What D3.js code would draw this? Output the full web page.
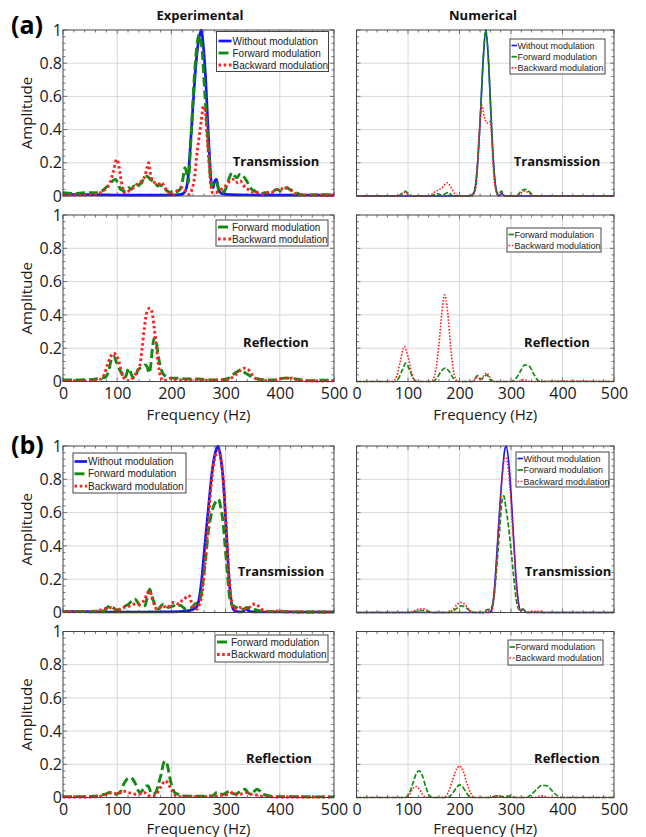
<!DOCTYPE html>
<html><head><meta charset="utf-8">
<script src="https://cdn.jsdelivr.net/npm/d3@7"></script>
<style>body{margin:0;background:#fff}svg{display:block}</style>
</head><body>
<script>
// ---------------- DATA ([frequency Hz, amplitude]) ----------------
const xTickValues = [0,100,200,300,400,500];
const xTickLabels = ["0","100","200","300","400","500"];
const yTickValues = [0,0.2,0.4,0.6,0.8,1];
const yTickLabels = ["0","0.2","0.4","0.6","0.8","1"];
const seriesNames = ["Without modulation","Forward modulation","Backward modulation"];
const columnTitles = ["Experimental","Numerical"];
const panelTags = ["(a)","(b)"];

// (a) experimental transmission
const aExpTransWithout = [[0,0.01],[50,0.008],[100,0.006],[150,0.005],[200,0.006],[215,0.008],[222,0.015],[227,0.04],[231,0.12],[236,0.35],[241,0.6],[246,0.82],[251,0.95],[255,1.0],[259,0.9],[263,0.72],[267,0.45],[271,0.2],[274,0.07],[277,0.05],[280,0.09],[283,0.1],[287,0.04],[292,0.015],[300,0.01],[350,0.006],[400,0.005],[450,0.006],[500,0.005]];
const aExpTransForward = [[0,0.02],[20,0.015],[40,0.02],[62,0.02],[72,0.03],[79,0.05],[86,0.07],[91,0.09],[97,0.1],[102,0.07],[106,0.04],[115,0.03],[121,0.05],[126,0.04],[131,0.06],[136,0.05],[141,0.07],[145,0.08],[150,0.11],[155,0.12],[161,0.1],[166,0.09],[170,0.08],[175,0.06],[179,0.07],[184,0.05],[188,0.04],[193,0.03],[197,0.02],[203,0.03],[207,0.02],[212,0.03],[216,0.04],[221,0.1],[225,0.17],[228,0.14],[231,0.08],[236,0.35],[243,0.75],[248,0.93],[251,0.97],[256,0.9],[262,0.6],[268,0.3],[274,0.06],[279,0.08],[283,0.09],[287,0.04],[292,0.02],[298,0.03],[302,0.06],[308,0.12],[312,0.14],[317,0.12],[321,0.11],[326,0.13],[330,0.13],[335,0.11],[339,0.09],[344,0.06],[348,0.04],[354,0.03],[358,0.02],[365,0.01],[372,0.02],[380,0.02],[388,0.03],[395,0.04],[402,0.03],[408,0.04],[413,0.05],[418,0.04],[425,0.03],[431,0.02],[437,0.01],[450,0.005],[470,0.008],[500,0.005]];
const aExpTransBackward = [[0,0.005],[30,0.005],[55,0.008],[66,0.015],[74,0.03],[81,0.05],[87,0.08],[93,0.15],[99,0.22],[103,0.18],[106,0.12],[110,0.05],[113,0.02],[118,0.02],[124,0.04],[130,0.05],[136,0.07],[142,0.08],[147,0.1],[151,0.12],[155,0.17],[158,0.2],[161,0.14],[165,0.09],[170,0.08],[176,0.07],[180,0.08],[185,0.07],[190,0.04],[195,0.02],[200,0.01],[205,0.01],[210,0.03],[215,0.04],[220,0.05],[224,0.04],[228,0.02],[233,0.01],[238,0.04],[243,0.12],[247,0.25],[251,0.35],[255,0.45],[259,0.54],[263,0.5],[266,0.35],[270,0.18],[273,0.06],[276,0.02],[282,0.02],[287,0.03],[292,0.04],[297,0.05],[302,0.07],[308,0.09],[313,0.1],[317,0.1],[322,0.08],[327,0.09],[332,0.07],[336,0.05],[341,0.04],[346,0.03],[352,0.02],[360,0.02],[368,0.01],[376,0.02],[384,0.02],[390,0.03],[396,0.04],[402,0.04],[407,0.05],[413,0.05],[419,0.04],[425,0.02],[432,0.01],[445,0.005],[470,0.005],[500,0.003]];

// (a) experimental reflection
const aExpReflForward = [[0,0.01],[30,0.01],[55,0.012],[68,0.02],[78,0.025],[84,0.06],[90,0.14],[94,0.15],[98,0.12],[103,0.08],[108,0.05],[113,0.02],[117,0.04],[121,0.08],[124,0.06],[128,0.03],[133,0.02],[137,0.06],[142,0.08],[147,0.09],[151,0.1],[155,0.09],[159,0.05],[162,0.1],[165,0.2],[168,0.26],[172,0.24],[175,0.17],[179,0.1],[184,0.05],[190,0.03],[198,0.02],[210,0.02],[230,0.015],[250,0.015],[270,0.01],[290,0.01],[303,0.015],[310,0.03],[317,0.05],[322,0.06],[327,0.07],[332,0.06],[337,0.05],[342,0.04],[347,0.03],[352,0.02],[360,0.015],[375,0.01],[390,0.01],[400,0.015],[408,0.02],[415,0.02],[422,0.02],[430,0.015],[440,0.01],[460,0.005],[480,0.008],[500,0.005]];
const aExpReflBackward = [[0,0.005],[40,0.005],[60,0.008],[70,0.015],[76,0.04],[82,0.1],[88,0.15],[93,0.17],[98,0.16],[103,0.12],[107,0.07],[111,0.03],[115,0.01],[122,0.005],[128,0.02],[133,0.04],[138,0.07],[142,0.1],[146,0.2],[150,0.32],[155,0.42],[160,0.44],[164,0.42],[168,0.33],[172,0.22],[176,0.1],[180,0.03],[185,0.005],[192,0.01],[198,0.02],[210,0.01],[240,0.01],[270,0.008],[300,0.01],[310,0.02],[318,0.04],[325,0.06],[333,0.08],[340,0.075],[345,0.06],[351,0.03],[358,0.015],[366,0.01],[380,0.005],[395,0.01],[405,0.02],[414,0.02],[422,0.02],[432,0.01],[445,0.005],[470,0.003],[500,0.005]];

// (a) numerical transmission
const aNumTransWithout = [[0,0],[220,0],[228,0.02],[234,0.15],[240,0.45],[246,0.82],[251,1.0],[256,0.83],[261,0.5],[266,0.2],[271,0.04],[276,0],[282,0.015],[288,0],[500,0]];
const aNumTransForward = [[0,0],[80,0],[88,0.015],[94,0.03],[100,0.015],[108,0],[145,0],[156,0.015],[165,0.005],[178,0.02],[188,0],[220,0],[228,0.02],[234,0.15],[240,0.45],[246,0.82],[251,1.0],[256,0.83],[261,0.5],[266,0.2],[271,0.04],[276,0.01],[281,0.03],[288,0],[310,0],[320,0.03],[327,0.04],[334,0.03],[345,0],[500,0]];
const aNumTransBackward = [[0,0],[80,0],[88,0.01],[93,0.02],[100,0.01],[108,0],[140,0],[150,0.02],[158,0.035],[166,0.05],[176,0.08],[184,0.05],[192,0.01],[200,0],[225,0],[232,0.05],[237,0.3],[243,0.55],[248,0.48],[253,0.44],[258,0.45],[262,0.38],[266,0.15],[270,0.04],[276,0],[281,0.02],[288,0],[312,0],[320,0.02],[327,0.03],[334,0.02],[345,0],[500,0]];

// (a) numerical reflection
const aNumReflForward = [[0,0],[75,0],[82,0.02],[89,0.07],[96,0.11],[103,0.07],[110,0.02],[118,0],[148,0],[156,0.02],[164,0.06],[172,0.08],[180,0.06],[188,0.02],[196,0],[225,0],[235,0.035],[242,0.015],[247,0.025],[253,0.04],[260,0.01],[268,0],[300,0],[310,0.02],[318,0.06],[327,0.1],[336,0.09],[345,0.04],[353,0.005],[360,0],[500,0]];
const aNumReflBackward = [[0,0],[70,0],[78,0.03],[85,0.12],[93,0.21],[100,0.15],[107,0.05],[115,0],[145,0],[152,0.04],[160,0.22],[166,0.42],[171,0.52],[177,0.42],[183,0.2],[190,0.04],[197,0],[225,0],[235,0.025],[242,0.01],[248,0.04],[253,0.05],[260,0.02],[268,0],[312,0],[325,0.01],[338,0],[400,0.003],[500,0]];

// (b) experimental transmission
const bExpTransWithout = [[0,0.005],[40,0.005],[80,0.003],[150,0.003],[200,0.004],[230,0.01],[240,0.02],[246,0.03],[251,0.08],[256,0.2],[261,0.38],[266,0.55],[271,0.72],[276,0.87],[281,0.96],[286,1.0],[290,0.95],[294,0.85],[298,0.68],[302,0.45],[306,0.22],[310,0.08],[314,0.02],[320,0.005],[330,0.003],[339,0.02],[345,0.005],[360,0.003],[400,0.003],[500,0.003]];
const bExpTransForward = [[0,0.005],[40,0.005],[60,0.008],[75,0.01],[82,0.03],[87,0.04],[92,0.03],[96,0.02],[101,0.015],[105,0.02],[112,0.035],[121,0.05],[127,0.07],[133,0.08],[138,0.06],[142,0.04],[146,0.035],[151,0.04],[156,0.1],[160,0.14],[164,0.1],[168,0.06],[172,0.03],[176,0.02],[181,0.04],[185,0.05],[190,0.04],[194,0.03],[199,0.035],[204,0.04],[209,0.05],[213,0.045],[218,0.04],[222,0.03],[226,0.02],[232,0.025],[238,0.03],[243,0.05],[248,0.06],[253,0.08],[258,0.18],[263,0.32],[268,0.48],[273,0.58],[278,0.64],[283,0.67],[287,0.68],[291,0.63],[295,0.55],[299,0.4],[303,0.25],[307,0.1],[311,0.05],[315,0.04],[320,0.03],[326,0.02],[333,0.02],[339,0.03],[345,0.025],[351,0.02],[357,0.015],[363,0.01],[375,0.005],[400,0.005],[450,0.003],[500,0.003]];
const bExpTransBackward = [[0,0.005],[40,0.004],[60,0.005],[70,0.015],[76,0.02],[82,0.03],[88,0.03],[94,0.025],[100,0.01],[106,0.02],[112,0.03],[118,0.035],[124,0.04],[130,0.05],[136,0.05],[141,0.05],[146,0.06],[151,0.08],[156,0.12],[160,0.13],[164,0.09],[168,0.05],[173,0.02],[178,0.025],[183,0.04],[188,0.035],[194,0.03],[199,0.05],[204,0.06],[209,0.055],[214,0.05],[219,0.07],[224,0.08],[229,0.1],[233,0.1],[237,0.06],[242,0.03],[247,0.02],[252,0.05],[257,0.12],[262,0.3],[267,0.5],[272,0.72],[277,0.87],[282,0.95],[287,0.97],[291,0.93],[295,0.82],[299,0.62],[303,0.4],[307,0.18],[311,0.06],[315,0.02],[320,0.02],[326,0.03],[332,0.025],[338,0.02],[344,0.03],[350,0.05],[355,0.05],[360,0.04],[366,0.02],[372,0.01],[385,0.005],[400,0.01],[410,0.005],[450,0.003],[500,0.003]];

// (b) experimental reflection
const bExpReflForward = [[0,0.005],[30,0.005],[55,0.008],[62,0.01],[70,0.015],[78,0.02],[86,0.03],[92,0.025],[97,0.02],[102,0.025],[107,0.04],[112,0.08],[118,0.11],[124,0.12],[129,0.11],[134,0.08],[139,0.04],[143,0.03],[148,0.05],[153,0.07],[157,0.07],[161,0.04],[166,0.02],[171,0.03],[176,0.08],[181,0.14],[186,0.21],[189,0.22],[193,0.19],[197,0.12],[201,0.07],[206,0.03],[212,0.02],[222,0.01],[240,0.008],[260,0.008],[275,0.01],[284,0.03],[290,0.02],[296,0.02],[302,0.03],[308,0.04],[313,0.025],[318,0.02],[324,0.03],[330,0.04],[336,0.05],[341,0.03],[346,0.02],[352,0.035],[358,0.05],[363,0.04],[368,0.02],[374,0.015],[380,0.01],[390,0.005],[420,0.005],[460,0.004],[500,0.004]];
const bExpReflBackward = [[0,0.003],[40,0.003],[65,0.005],[75,0.015],[82,0.02],[90,0.03],[96,0.025],[101,0.02],[106,0.03],[111,0.04],[116,0.035],[121,0.03],[127,0.025],[133,0.02],[139,0.02],[145,0.025],[150,0.03],[155,0.015],[160,0.01],[166,0.01],[172,0.02],[178,0.05],[183,0.08],[188,0.1],[193,0.09],[198,0.06],[203,0.03],[208,0.01],[215,0.005],[240,0.005],[270,0.005],[285,0.01],[295,0.015],[305,0.02],[314,0.03],[320,0.02],[327,0.02],[333,0.025],[339,0.03],[345,0.02],[351,0.02],[357,0.015],[363,0.01],[375,0.005],[400,0.003],[500,0.003]];

// (b) numerical transmission
const bNumTransWithout = [[0,0],[258,0],[263,0.02],[268,0.15],[273,0.38],[278,0.62],[283,0.83],[288,0.98],[291,1.0],[295,0.92],[300,0.72],[305,0.45],[310,0.2],[315,0.05],[319,0.01],[323,0.02],[330,0],[500,0]];
const bNumTransForward = [[0,0],[105,0],[118,0.008],[127,0.012],[136,0.008],[150,0],[180,0],[190,0.015],[197,0.03],[204,0.04],[212,0.03],[220,0.01],[230,0],[245,0],[252,0.015],[257,0.02],[262,0.03],[268,0.12],[273,0.3],[278,0.5],[283,0.68],[286,0.7],[290,0.63],[295,0.52],[300,0.38],[305,0.22],[310,0.08],[315,0.02],[319,0.01],[323,0.02],[330,0],[345,0.003],[360,0],[500,0]];
const bNumTransBackward = [[0,0],[100,0],[112,0.01],[122,0.02],[128,0.022],[136,0.015],[148,0],[178,0],[188,0.02],[196,0.05],[203,0.06],[210,0.05],[218,0.02],[228,0],[248,0],[255,0.01],[262,0.005],[268,0.12],[273,0.35],[278,0.6],[283,0.82],[288,0.93],[291,0.93],[295,0.85],[300,0.66],[305,0.42],[310,0.18],[315,0.04],[319,0.01],[323,0.02],[330,0],[340,0.005],[355,0.008],[365,0],[500,0]];

// (b) numerical reflection
const bNumReflForward = [[0,0],[95,0],[103,0.03],[110,0.09],[117,0.15],[122,0.16],[128,0.13],[135,0.06],[142,0.01],[150,0],[178,0],[185,0.02],[192,0.05],[200,0.076],[207,0.06],[214,0.025],[222,0],[260,0],[275,0.01],[285,0.005],[298,0.01],[310,0],[330,0],[340,0.02],[350,0.05],[360,0.074],[370,0.07],[380,0.04],[390,0.01],[398,0],[500,0]];
const bNumReflBackward = [[0,0],[95,0],[103,0.02],[110,0.055],[116,0.066],[122,0.05],[128,0.02],[135,0],[170,0],[178,0.03],[186,0.1],[194,0.17],[200,0.19],[207,0.16],[214,0.09],[221,0.03],[229,0],[260,0],[273,0.01],[285,0],[345,0],[360,0.01],[375,0],[500,0]];

// ---------------- STYLES ----------------
const colors = {w:"#1414ff", f:"#138a13", b:"#ff2020"};
const expStyle = {
  w:{color:colors.w, width:2.7, dash:null},
  f:{color:colors.f, width:2.9, dash:"9,4"},
  b:{color:colors.b, width:2.9, dash:"2.6,2.6"}
};
const numStyle = {
  w:{color:colors.w, width:1.6, dash:null},
  f:{color:colors.f, width:1.7, dash:"5,2"},
  b:{color:colors.b, width:1.6, dash:"1.6,1.6"}
};

// ---------------- LAYOUT ----------------
const L = {x0:63, x1:334}, R = {x0:356.5, x1:614};
const rows = [
  {top:30, bot:196}, {top:215, bot:381.5}, {top:446, bot:612.5}, {top:631.5, bot:797.5}
];

const panels = [
  {col:L, row:rows[0], kind:"exp", yLabels:true, xLabels:false,
   series:[["w",aExpTransWithout],["f",aExpTransForward],["b",aExpTransBackward]],
   note:"Transmission", nx:276, ny:166,
   legend:{x:216.5,y:31.5,w:112,h:40,first:9.5,gap:12,fs:10,s0:2,s1:15,tx:16}},
  {col:L, row:rows[1], kind:"exp", yLabels:true, xLabels:true,
   series:[["f",aExpReflForward],["b",aExpReflBackward]],
   note:"Reflection", nx:276, ny:347,
   legend:{x:216,y:220,w:112,h:26,first:7,gap:12,fs:10,s0:2,s1:15,tx:16}},
  {col:R, row:rows[0], kind:"num", yLabels:false, xLabels:false,
   series:[["w",aNumTransWithout],["f",aNumTransForward],["b",aNumTransBackward]],
   note:"Transmission", nx:557, ny:166,
   legend:{x:510,y:39,w:95,h:35,first:6.5,gap:11.2,fs:9,s0:1.5,s1:7,tx:7.5}},
  {col:R, row:rows[1], kind:"num", yLabels:false, xLabels:true,
   series:[["f",aNumReflForward],["b",aNumReflBackward]],
   note:"Reflection", nx:557, ny:347,
   legend:{x:507,y:228,w:94,h:24,first:6.5,gap:11,fs:9,s0:1.5,s1:7,tx:7.5}},
  {col:L, row:rows[2], kind:"exp", yLabels:true, xLabels:false,
   series:[["w",bExpTransWithout],["f",bExpTransForward],["b",bExpTransBackward]],
   note:"Transmission", nx:281, ny:576,
   legend:{x:73,y:453,w:113,h:40,first:8.5,gap:12.3,fs:10,s0:1.5,s1:14,tx:15}},
  {col:L, row:rows[3], kind:"exp", yLabels:true, xLabels:true,
   series:[["f",bExpReflForward],["b",bExpReflBackward]],
   note:"Reflection", nx:279, ny:763,
   legend:{x:215,y:635,w:113,h:27,first:7,gap:12.5,fs:10,s0:2,s1:15,tx:16}},
  {col:R, row:rows[2], kind:"num", yLabels:false, xLabels:false,
   series:[["w",bNumTransWithout],["f",bNumTransForward],["b",bNumTransBackward]],
   note:"Transmission", nx:568, ny:576,
   legend:{x:516,y:452,w:93,h:35,first:6.5,gap:11.5,fs:9,s0:1.5,s1:7,tx:7.5}},
  {col:R, row:rows[3], kind:"num", yLabels:false, xLabels:true,
   series:[["f",bNumReflForward],["b",bNumReflBackward]],
   note:"Reflection", nx:567, ny:763,
   legend:{x:508,y:640,w:95,h:25,first:7,gap:11,fs:9,s0:1.5,s1:7,tx:7.5}}
];

const nameOf = {w:seriesNames[0], f:seriesNames[1], b:seriesNames[2]};
const FONT = "'Open Sans', 'Noto Sans', sans-serif";

const svg = d3.select("body").append("svg").attr("width",646).attr("height",837);

panels.forEach((p,pi) => {
  const x = d3.scaleLinear().domain([0,500]).range([p.col.x0,p.col.x1]);
  const y = d3.scaleLinear().domain([0,1]).range([p.row.bot,p.row.top]);
  const g = svg.append("g");
  const st = p.kind==="exp" ? expStyle : numStyle;

  // background + grid
  g.append("rect").attr("x",x(0)).attr("y",y(1)).attr("width",x(500)-x(0)).attr("height",y(0)-y(1)).attr("fill","#fff");
  g.selectAll(".gx").data(xTickValues.slice(1,-1)).enter().append("line")
    .attr("x1",d=>x(d)).attr("x2",d=>x(d)).attr("y1",y(0)).attr("y2",y(1))
    .attr("stroke","#d8d8d8").attr("stroke-width",1);
  g.selectAll(".gy").data(yTickValues.slice(1,-1)).enter().append("line")
    .attr("x1",x(0)).attr("x2",x(500)).attr("y1",d=>y(d)).attr("y2",d=>y(d))
    .attr("stroke","#d8d8d8").attr("stroke-width",1);

  // minor + major ticks (inward, all four sides)
  const xMinor = d3.range(0,501,20), yMinor = d3.range(0,1.0001,0.04);
  const tk = g.append("g").attr("stroke","#555").attr("stroke-width",0.8);
  xMinor.forEach(v => {
    const len = (v%100===0)?4:2.5;
    tk.append("line").attr("x1",x(v)).attr("x2",x(v)).attr("y1",y(0)).attr("y2",y(0)-len);
    tk.append("line").attr("x1",x(v)).attr("x2",x(v)).attr("y1",y(1)).attr("y2",y(1)+len);
  });
  yMinor.forEach(v => {
    const major = Math.abs(v*5-Math.round(v*5))<1e-6;
    const len = major?4:2.5;
    tk.append("line").attr("x1",x(0)).attr("x2",x(0)+len).attr("y1",y(v)).attr("y2",y(v));
    tk.append("line").attr("x1",x(500)).attr("x2",x(500)-len).attr("y1",y(v)).attr("y2",y(v));
  });

  // series
  const line = d3.line().x(d=>x(d[0])).y(d=>y(d[1])).curve(d3.curveMonotoneX);
  p.series.forEach(([k,data]) => {
    const s = st[k];
    g.append("path").datum(data).attr("d",line)
      .attr("fill","none").attr("stroke",s.color).attr("stroke-width",s.width)
      .attr("stroke-dasharray",s.dash).attr("stroke-linejoin","round");
  });

  // frame
  g.append("rect").attr("x",x(0)).attr("y",y(1)).attr("width",x(500)-x(0)).attr("height",y(0)-y(1))
    .attr("fill","none").attr("stroke","#444").attr("stroke-width",1);

  // axes labels
  if (p.xLabels) {
    const ax = d3.axisBottom(x).tickValues(xTickValues).tickFormat((d,i)=>xTickLabels[i]).tickSize(0).tickPadding(6);
    const ga = g.append("g").attr("transform",`translate(0,${y(0)})`).call(ax);
    ga.select(".domain").remove();
    ga.selectAll("text").attr("font-family",FONT).attr("font-size",16).attr("fill","#1a1a1a");
    g.append("text").attr("x",(x(0)+x(500))/2).attr("y",Math.min(y(0)+38.5,834)).attr("text-anchor","middle")
      .attr("font-family",FONT).attr("font-size",15).attr("fill","#1a1a1a").text("Frequency (Hz)");
  }
  if (p.yLabels) {
    const ay = d3.axisLeft(y).tickValues(yTickValues).tickFormat((d,i)=>yTickLabels[i]).tickSize(0).tickPadding(1);
    const ga = g.append("g").attr("transform",`translate(${x(0)},0)`).call(ay);
    ga.select(".domain").remove();
    ga.selectAll("text").attr("font-family",FONT).attr("font-size",16).attr("fill","#1a1a1a");
    g.append("text").attr("transform",`translate(32,${(y(0)+y(1))/2}) rotate(-90)`).attr("text-anchor","middle")
      .attr("font-family",FONT).attr("font-size",15).attr("fill","#1a1a1a").text("Amplitude");
  }

  // annotation
  g.append("text").attr("x",p.nx).attr("y",p.ny).attr("text-anchor","middle")
    .attr("font-family",FONT).attr("font-weight","bold").attr("font-size",13).attr("fill","#111").text(p.note);

  // legend
  const lg = p.legend;
  const leg = g.append("g").attr("transform",`translate(${lg.x},${lg.y})`);
  leg.append("rect").attr("width",lg.w).attr("height",lg.h).attr("fill","#fff").attr("stroke","#444").attr("stroke-width",1);
  p.series.forEach(([k],i) => {
    const s = st[k];
    const cy = lg.first + i*lg.gap;
    leg.append("line").attr("x1",lg.s0).attr("x2",lg.s1).attr("y1",cy).attr("y2",cy)
      .attr("stroke",s.color).attr("stroke-width",s.width)
      .attr("stroke-dasharray", k==="f" && p.kind==="exp" ? "10,3" : (k==="b" ? s.dash : null));
    leg.append("text").attr("x",lg.tx).attr("y",cy).attr("dy","0.35em")
      .attr("font-family","'Liberation Sans', Arial, sans-serif").attr("font-size",lg.fs).attr("fill","#222")
      .text(nameOf[k]);
  });
});

// column titles and panel tags
svg.append("text").attr("x",200).attr("y",20).attr("text-anchor","middle").attr("font-family",FONT)
  .attr("font-weight","bold").attr("font-size",13).attr("fill","#111").text(columnTitles[0]);
svg.append("text").attr("x",483).attr("y",20).attr("text-anchor","middle").attr("font-family",FONT)
  .attr("font-weight","bold").attr("font-size",13).attr("fill","#111").text(columnTitles[1]);
svg.append("text").attr("x",11).attr("y",34).attr("font-family",FONT)
  .attr("font-weight","bold").attr("font-size",25).attr("fill","#000").text(panelTags[0]);
svg.append("text").attr("x",11).attr("y",454).attr("font-family",FONT)
  .attr("font-weight","bold").attr("font-size",25).attr("fill","#000").text(panelTags[1]);
</script>
</body></html>
